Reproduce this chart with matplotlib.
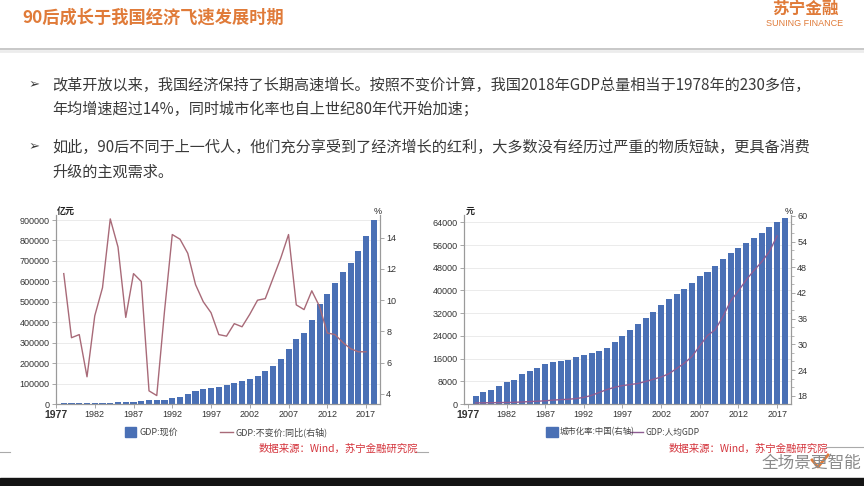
import matplotlib
matplotlib.use("Agg")
import matplotlib.pyplot as plt
from matplotlib.lines import Line2D
from matplotlib.patches import Rectangle
from matplotlib.ticker import MultipleLocator
from matplotlib.transforms import blended_transform_factory

plt.rcParams["font.family"] = ["Noto Sans CJK SC", "DejaVu Sans"]

# ---- data ----
years = list(range(1978, 2019))
gdp_nominal = [3679, 4101, 4588, 4936, 5373, 6021, 7279, 9099, 10376, 12175,
               15180, 17180, 18873, 22006, 27195, 35673, 48638, 61340, 71814, 79715,
               85196, 90564, 100280, 110863, 121717, 137422, 161840, 187319, 219439, 270092,
               319245, 348518, 412119, 487940, 538580, 592963, 643563, 688858, 746395, 820754,
               900309]
growth_years = list(range(1978, 2018))
gdp_growth = [11.7, 7.6, 7.8, 5.1, 9.0, 10.8, 15.2, 13.4, 8.9, 11.7,
              11.2, 4.2, 3.9, 9.3, 14.2, 13.9, 13.0, 11.0, 9.9, 9.2,
              7.8, 7.7, 8.5, 8.3, 9.1, 10.0, 10.1, 11.4, 12.7, 14.2,
              9.7, 9.4, 10.6, 9.6, 7.9, 7.8, 7.3, 6.9, 6.7, 6.7]
pc_years = list(range(1978, 2018))
gdp_per_capita = [385, 423, 468, 497, 533, 588, 702, 866, 973, 1123,
                  1378, 1536, 1663, 1912, 2334, 3027, 4081, 5091, 5898, 6481,
                  6860, 7229, 7942, 8717, 9506, 10666, 12487, 14368, 16738, 20494,
                  24100, 26180, 30808, 36302, 39874, 43684, 47005, 50028, 53680, 59201]
urban_rate = [17.92, 18.96, 19.39, 20.16, 21.13, 21.62, 23.01, 23.71, 24.52, 25.32,
              25.81, 26.21, 26.41, 26.94, 27.46, 27.99, 28.51, 29.04, 30.48, 31.91,
              33.35, 34.78, 36.22, 37.66, 39.09, 40.53, 41.76, 42.99, 44.34, 45.89,
              46.99, 48.34, 49.95, 51.27, 52.57, 53.73, 54.77, 56.10, 57.35, 58.52,
              59.58]
xticks = list(range(1977, 2018, 5))

title = "90后成长于我国经济飞速发展时期"
bullets = [
    ["改革开放以来，我国经济保持了长期高速增长。按照不变价计算，我国2018年GDP总量相当于1978年的230多倍，",
     "年均增速超过14%，同时城市化率也自上世纪80年代开始加速；"],
    ["如此，90后不同于上一代人，他们充分享受到了经济增长的红利，大多数没有经历过严重的物质短缺，更具备消费",
     "升级的主观需求。"],
]
source = "数据来源：Wind，苏宁金融研究院"

BAR = "#4a70b5"
ORANGE = "#e07b39"
TXT = "#3a3a3a"
W, H = 864, 486

fig = plt.figure(figsize=(W / 100, H / 100), dpi=100)
fig.patch.set_facecolor("white")

# overlay in pixel coordinates for slide decoration
deco = fig.add_axes([0, 0, 1, 1])
deco.set_xlim(0, W)
deco.set_ylim(H, 0)
deco.axis("off")

deco.text(22, 18, title, fontsize=12.4, fontweight="bold", color=ORANGE, va="center")
deco.text(805, 9, "苏宁金融", fontsize=12, fontweight="bold", color=ORANGE,
          va="center", ha="center")
deco.text(805, 24, "SUNING FINANCE", fontsize=6.5, color=ORANGE, va="center",
          ha="center", family="Liberation Sans")
deco.plot([0, W], [49, 49], color="#c8c8c8", lw=1.4)
deco.plot([0, W], [51, 51], color="#ececec", lw=2)

line_y = [[85, 109], [147, 172]]
for para, ys in zip(bullets, line_y):
    deco.text(29, ys[0], "➢", fontsize=9.5, color=TXT, va="center", family="DejaVu Sans")
    for txt, y in zip(para, ys):
        deco.text(52, y, txt, fontsize=10.9, color=TXT, va="center")

deco.add_patch(Rectangle((0, 478), W, 8, color="#141414"))
deco.text(762, 463, "全场景更智能", fontsize=12, color="#8a8a8a", va="center")
deco.plot([812, 818, 828], [460, 467, 455], color=ORANGE, lw=2)
deco.plot([0, 10], [452, 452], color="#aaaaaa", lw=0.8)
deco.plot([415, 428], [452, 452], color="#aaaaaa", lw=0.8)
deco.plot([826, 864], [447, 447], color="#aaaaaa", lw=0.8)


def style_axes(ax):
    ax.spines["top"].set_visible(False)
    for s in ["left", "right", "bottom"]:
        ax.spines[s].set_color("#9a9a9a")
        ax.spines[s].set_linewidth(0.8)
    ax.tick_params(direction="out", length=3, width=0.6, color="#9a9a9a",
                   labelsize=6.5, labelcolor="#333333", pad=1.5)
    for lab in ax.get_xticklabels() + ax.get_yticklabels():
        lab.set_family("Liberation Sans")


def px_rect(x0, x1, y0, y1):
    return [x0 / W, 1 - y1 / H, (x1 - x0) / W, (y1 - y0) / H]


# ---- left chart: nominal GDP and real growth ----
ax1 = fig.add_axes(px_rect(56, 380, 215, 404))
ax1.bar(years, gdp_nominal, width=0.78, color=BAR, zorder=2)
ax1.set_xlim(1977, 2018.8)
ax1.set_ylim(0, 924500)
ax1.set_yticks(range(0, 900001, 100000))
ax1.set_xticks(xticks)
ax1.grid(axis="y", color="#ebebeb", lw=0.7, zorder=0)
ax1.set_axisbelow(True)
ax1r = ax1.twinx()
ax1r.plot(growth_years, gdp_growth, color="#a86a78", lw=1.0)
ax1r.set_ylim(3.36, 15.45)
ax1r.set_yticks(range(4, 15, 2))
ax1.yaxis.tick_left()
ax1r.yaxis.tick_right()
for a in (ax1, ax1r):
    style_axes(a)
ax1.get_xticklabels()[0].set_fontweight("bold")
ax1.get_xticklabels()[0].set_fontsize(7.5)

# ---- right chart: urbanisation (bars, right axis) and GDP per capita (line) ----
ax2 = fig.add_axes(px_rect(464, 791, 215, 404))
ax2.bar(years, urban_rate, width=0.78, color=BAR, zorder=2)
ax2.set_xlim(1976.5, 2018.8)
ax2.set_ylim(16.06, 60.2)
ax2.set_xticks(xticks)
ax2g = ax2.twinx()
ax2g.plot(pc_years, gdp_per_capita, color="#8e5c92", lw=1.0)
ax2g.set_ylim(0, 66570)
ax2g.set_yticks(range(0, 64001, 8000))
ax2.yaxis.tick_right()
ax2.set_yticks(range(18, 61, 6))
ax2.yaxis.set_minor_locator(MultipleLocator(2))
ax2g.yaxis.tick_left()
grid_tr = blended_transform_factory(ax2.transAxes, ax2g.transData)
for v in range(8000, 64001, 8000):
    ax2.add_line(Line2D([0, 1], [v, v], transform=grid_tr, color="#ebebeb",
                        lw=0.7, zorder=0))
for a in (ax2, ax2g):
    style_axes(a)
ax2.tick_params(which="minor", length=2, width=0.5, color="#9a9a9a")
ax2.get_xticklabels()[0].set_fontweight("bold")
ax2.get_xticklabels()[0].set_fontsize(7.5)

# unit labels
deco.text(57, 211, "亿元", fontsize=6.5, color="#222222", va="center", fontweight="bold")
deco.text(374, 211, "%", fontsize=6.5, color="#222222", va="center", family="Liberation Sans")
deco.text(466, 211, "元", fontsize=6.5, color="#222222", va="center", fontweight="bold")
deco.text(785, 211, "%", fontsize=6.5, color="#222222", va="center", family="Liberation Sans")

# legends
ly = 432
deco.add_patch(Rectangle((125, ly - 5), 11, 10, color=BAR))
deco.text(139, ly, "GDP:现价", fontsize=6.5, color="#444444", va="center")
deco.plot([220, 233], [ly, ly], color="#a86a78", lw=1)
deco.text(235, ly, "GDP:不变价:同比(右轴)", fontsize=6.5, color="#444444", va="center")
deco.add_patch(Rectangle((546, ly - 5), 12, 10, color=BAR))
deco.text(560, ly, "城市化率:中国(右轴)", fontsize=6.0, color="#444444", va="center")
deco.plot([630, 643], [ly, ly], color="#8e5c92", lw=1)
deco.text(645, ly, "GDP:人均GDP", fontsize=6.2, color="#444444", va="center")

deco.text(259, 449, source, fontsize=7.5, color="#d4343c", va="center", style="italic")
deco.text(669, 449, source, fontsize=7.5, color="#d4343c", va="center", style="italic")

fig.savefig("out.png", dpi=100)
